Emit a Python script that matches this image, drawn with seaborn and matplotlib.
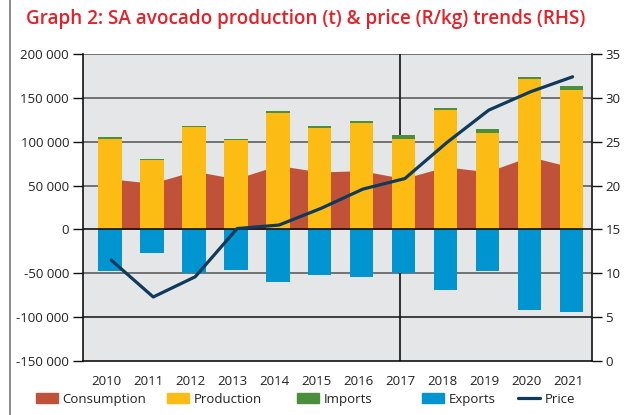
import matplotlib
matplotlib.use("Agg")
import matplotlib.pyplot as plt
import matplotlib.ticker as mticker
from matplotlib.patches import Patch
from matplotlib.lines import Line2D
import seaborn as sns
import pandas as pd
import numpy as np

years = ["2010", "2011", "2012", "2013", "2014", "2015",
         "2016", "2017", "2018", "2019", "2020", "2021"]
consumption = [57800, 52600, 66500, 57700, 73000, 65500, 67000, 58000, 71400, 65700, 83000, 71000]
production = [103500, 79000, 116500, 101500, 132500, 116000, 121500, 103500, 136500, 109500, 171500, 159000]
imports = [2000, 1800, 1500, 1800, 2000, 1800, 2000, 4000, 2000, 4500, 2000, 4000]
exports = [-47600, -27400, -50200, -45700, -60500, -52500, -54500, -50200, -68500, -47600, -91300, -93600]
price = [11.5, 7.3, 9.6, 15.1, 15.5, 17.4, 19.6, 20.8, 24.9, 28.6, 30.7, 32.4]

c_cons = "#c1523a"
c_prod = "#fdbc13"
c_imp = "#4b8e3b"
c_exp = "#0095d1"
c_price = "#0f3a5c"

df = pd.DataFrame({"Year": years, "Consumption": consumption, "Production": production,
                   "Imports": imports, "Exports": exports, "Price": price})
df["Top"] = df["Production"] + df["Imports"]

sns.set_style("white")
plt.rcParams["font.family"] = ["Open Sans", "DejaVu Sans"]

fig = plt.figure(figsize=(6.35, 4.15), dpi=100)
ax = fig.add_axes([0.1307, 0.1301, 0.8011, 0.7398])
ax.set_facecolor("#e5e6e8")

x = np.arange(len(years))
shift = 0.08  # bars sit a touch right of the year ticks in the original

# gridlines and the 2017 divider sit behind everything
for v in [200000, 150000, 100000, 50000, -50000]:
    ax.axhline(v, color="#5f5f5f", lw=1.2, zorder=0)
ax.axhline(-100000, color="#222222", lw=1.2, zorder=0)
ax.axvline(7, color="#111111", lw=1.2, zorder=0)

ax.fill_between(x + shift, consumption, color=c_cons, lw=0, zorder=1)

sns.barplot(data=df, x="Year", y="Top", color=c_imp, width=0.56, saturation=1,
            ax=ax, zorder=2, edgecolor="none")
sns.barplot(data=df, x="Year", y="Production", color=c_prod, width=0.56, saturation=1,
            ax=ax, zorder=3, edgecolor="none")
sns.barplot(data=df, x="Year", y="Exports", color=c_exp, width=0.56, saturation=1,
            ax=ax, zorder=3, edgecolor="none")
for bar in ax.patches:
    bar.set_x(bar.get_x() + shift)

ax.axhline(0, color="#111111", lw=1.2, zorder=4)

ax.set_xlim(-0.565, 11.565)
ax.set_ylim(-150000, 200000)
ax.set_yticks(range(-150000, 200001, 50000))
ax.yaxis.set_major_formatter(mticker.FuncFormatter(lambda v, p: f"{int(v):,}".replace(",", " ")))
ax.set_xlabel("")
ax.set_ylabel("")
ax.tick_params(axis="both", direction="out", length=7, width=1, color="#111111",
               labelsize=9.5, labelcolor="#222222", pad=3)

for s in ["left", "bottom"]:
    ax.spines[s].set_color("#111111")
    ax.spines[s].set_linewidth(1.2)
ax.spines["top"].set_visible(False)
ax.spines["right"].set_visible(False)

ax2 = ax.twinx()
sns.lineplot(x=x + 0.11, y=price, ax=ax2, color=c_price, lw=2.3, zorder=5)
ax2.set_ylim(0, 35)
ax2.set_yticks(range(0, 36, 5))
ax2.tick_params(axis="y", direction="out", length=7, width=1, color="#111111",
                labelsize=9.5, labelcolor="#222222", pad=3)
for s in ["left", "bottom", "top"]:
    ax2.spines[s].set_visible(False)
ax2.spines["right"].set_color("#111111")
ax2.spines["right"].set_linewidth(1.2)

fig.text(0.041, 0.955, "Graph 2: SA avocado production (t) & price (R/kg) trends (RHS)",
         color="#e42128", fontsize=13.6, fontweight="semibold", va="center", ha="left")

handles = [Patch(color=c_cons), Patch(color=c_prod), Patch(color=c_imp),
           Patch(color=c_exp), Line2D([], [], color=c_price, lw=2.3)]
labels = ["Consumption", "Production", "Imports", "Exports", "Price"]
lx = [36, 167, 297, 422, 518]
for h, l, px in zip(handles, labels, lx):
    fig.legend([h], [l], loc="center left", bbox_to_anchor=(px / 635, 0.038),
               frameon=False, fontsize=9.5, handlelength=1.7, handleheight=0.8,
               handletextpad=0.3, borderpad=0, borderaxespad=0, labelcolor="#222222")

fig.add_artist(Line2D([10 / 635, 10 / 635], [0, 1], transform=fig.transFigure,
                      color="#777777", lw=1.2))

fig.savefig("out.png", dpi=100)
